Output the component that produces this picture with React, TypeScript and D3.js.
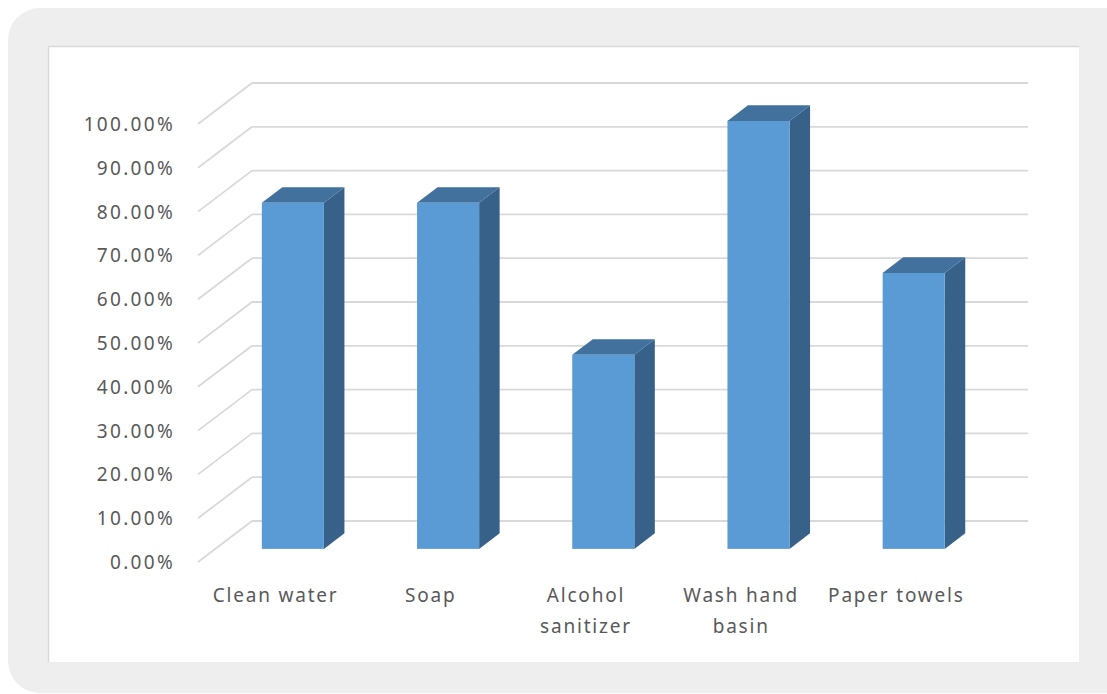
import React, { useEffect } from "react";
import * as d3 from "d3";

const categories: string[][] = [
  ["Clean water"],
  ["Soap"],
  ["Alcohol", "sanitizer"],
  ["Wash hand", "basin"],
  ["Paper towels"],
];
const values: number[] = [0.79, 0.79, 0.443, 0.977, 0.63];
const ticks: number[] = [0, 0.1, 0.2, 0.3, 0.4, 0.5, 0.6, 0.7, 0.8, 0.9, 1.0];

const W = 1107;
const H = 694;
const FRONT_LEFT = 198;
const FRONT_RIGHT = 974;
const Y0 = 562;
const Y100 = 124;
const DX = 54;
const DY = -41;
const T0 = 0.32;
const T1 = 0.7;

export default function App() {
  useEffect(() => {
    document.body.style.margin = "0";
  }, []);

  const keys = categories.map((c) => c.join(" "));
  const x = d3.scaleBand<string>().domain(keys).range([FRONT_LEFT, FRONT_RIGHT]).paddingInner(0).paddingOuter(0);
  const y = d3.scaleLinear().domain([0, 1]).range([Y0, Y100]);
  const bw = x.bandwidth() * 0.4;
  const fmt = d3.format(".2%");

  const frontColor = "#5b9bd5";
  const topColor = "#41719c";
  const sideColor = "#386189";
  const gridColor = "#d9d9d9";
  const textColor = "#595959";
  const font = "'Noto Sans', 'Open Sans', sans-serif";

  const ddx = DX * (T1 - T0);
  const ddy = DY * (T1 - T0);

  return (
    <svg width={W} height={H} style={{ display: "block" }}>
      <rect x={8} y={8} width={W - 8 + 30} height={H - 9} rx={32} ry={32} fill="#eeeeee" />
      <rect x={48} y={46} width={1031} height={616} fill="#ffffff" />
      <line x1={48} y1={46.5} x2={1079} y2={46.5} stroke="#d9d9d9" strokeWidth={1.5} />
      <line x1={48.5} y1={46} x2={48.5} y2={662} stroke="#d9d9d9" strokeWidth={1.5} />

      {ticks.map((t) => {
        const yy = y(t);
        return (
          <g key={t}>
            <line x1={FRONT_LEFT} y1={yy} x2={FRONT_LEFT + DX} y2={yy + DY} stroke={gridColor} strokeWidth={1.8} />
            <line x1={FRONT_LEFT + DX} y1={yy + DY} x2={FRONT_RIGHT + DX} y2={yy + DY} stroke={gridColor} strokeWidth={1.8} />
            <text
              x={175}
              y={yy}
              textAnchor="end"
              dominantBaseline="central"
              fontFamily={font}
              fontSize={19}
              letterSpacing={2.3}
              fill={textColor}
            >
              {fmt(t)}
            </text>
          </g>
        );
      })}

      {keys.map((k, i) => {
        const v = values[i];
        const fx = (x(k) as number) + (x.bandwidth() - bw) / 2 + DX * T0;
        const fyTop = y(v) + DY * T0;
        const fyBot = y(0) + DY * T0;
        const topPts = [
          [fx, fyTop],
          [fx + bw, fyTop],
          [fx + bw + ddx, fyTop + ddy],
          [fx + ddx, fyTop + ddy],
        ];
        const sidePts = [
          [fx + bw, fyTop],
          [fx + bw + ddx, fyTop + ddy],
          [fx + bw + ddx, fyBot + ddy],
          [fx + bw, fyBot],
        ];
        return (
          <g key={k}>
            <polygon points={sidePts.map((p) => p.join(",")).join(" ")} fill={sideColor} />
            <polygon points={topPts.map((p) => p.join(",")).join(" ")} fill={topColor} />
            <rect x={fx} y={fyTop} width={bw} height={fyBot - fyTop} fill={frontColor} />
          </g>
        );
      })}

      {categories.map((lines, i) => {
        const cx = (x(keys[i]) as number) + x.bandwidth() / 2;
        return (
          <text
            key={keys[i]}
            x={cx}
            y={595}
            textAnchor="middle"
            fontFamily={font}
            fontSize={19}
            letterSpacing={1.8}
            fill={textColor}
          >
            {lines.map((ln, j) => (
              <tspan key={j} x={cx} dy={j === 0 ? "0.35em" : 31}>
                {ln}
              </tspan>
            ))}
          </text>
        );
      })}
    </svg>
  );
}
